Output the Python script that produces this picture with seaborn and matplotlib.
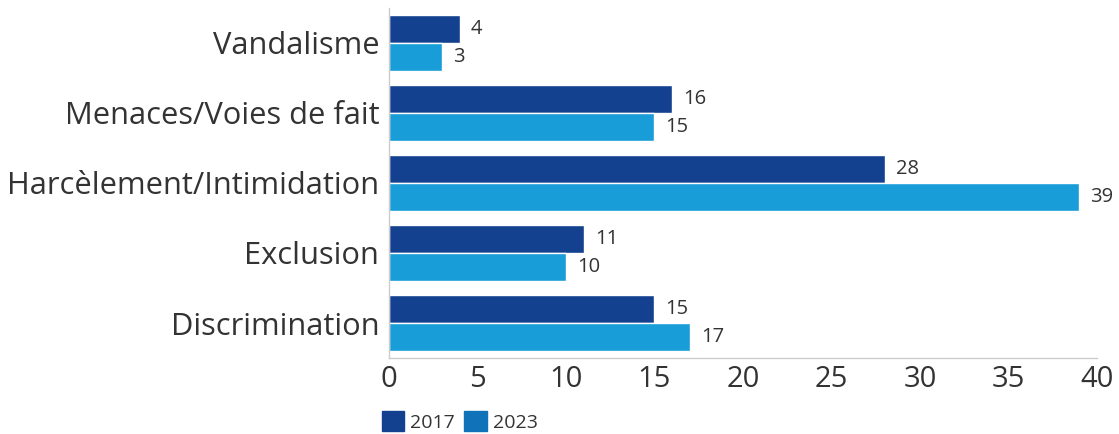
import matplotlib
matplotlib.use("Agg")
import matplotlib.pyplot as plt
import matplotlib.patches as mpatches
import seaborn as sns
import pandas as pd

categories = ["Vandalisme", "Menaces/Voies de fait", "Harcèlement/Intimidation",
              "Exclusion", "Discrimination"]
years = ["2017", "2023"]
values_2017 = [4, 16, 28, 11, 15]
values_2023 = [3, 15, 39, 10, 17]
x_ticks = [0, 5, 10, 15, 20, 25, 30, 35, 40]

bar_colors = {"2017": "#14418f", "2023": "#189dd8"}
legend_colors = {"2017": "#14418f", "2023": "#1072b9"}
text_color = "#333333"
grid_color = "#cccccc"

df = pd.DataFrame({
    "Catégorie": categories * 2,
    "Année": ["2017"] * len(categories) + ["2023"] * len(categories),
    "Valeur": values_2017 + values_2023,
})

sns.set_theme(style="white")
plt.rcParams["font.family"] = ["Open Sans", "DejaVu Sans"]

fig = plt.figure(figsize=(11.19, 4.34), dpi=100)
ax = fig.add_axes([0.3476, 0.175, 0.6327, 0.807])

sns.barplot(data=df, y="Catégorie", x="Valeur", hue="Année", order=categories,
            hue_order=years, palette=bar_colors, orient="h", width=0.8,
            saturation=1, ax=ax, legend=False)

for container in ax.containers:
    ax.bar_label(container, padding=8, fontsize=14.5, color=text_color)

ax.set_xlim(0, 40)
ax.set_xticks(x_ticks)
ax.set_xticklabels([str(t) for t in x_ticks], fontsize=21, color=text_color)
ax.tick_params(axis="y", labelsize=22.2, labelcolor=text_color, length=0, pad=7)
ax.tick_params(axis="x", direction="in", length=6, width=1, color=grid_color, pad=5)
ax.set_xlabel("")
ax.set_ylabel("")

for side in ["top", "right"]:
    ax.spines[side].set_visible(False)
for side in ["left", "bottom"]:
    ax.spines[side].set_color(grid_color)
    ax.spines[side].set_linewidth(1)

handles = [mpatches.Patch(color=legend_colors[y], label=y) for y in years]
fig.legend(handles=handles, loc="lower left", bbox_to_anchor=(0.3255, -0.035),
           ncol=2, frameon=False, fontsize=14, handlelength=1.15,
           handleheight=1.15, handletextpad=0.3, columnspacing=0.5,
           labelcolor=text_color)

fig.savefig("out.png", dpi=100)
